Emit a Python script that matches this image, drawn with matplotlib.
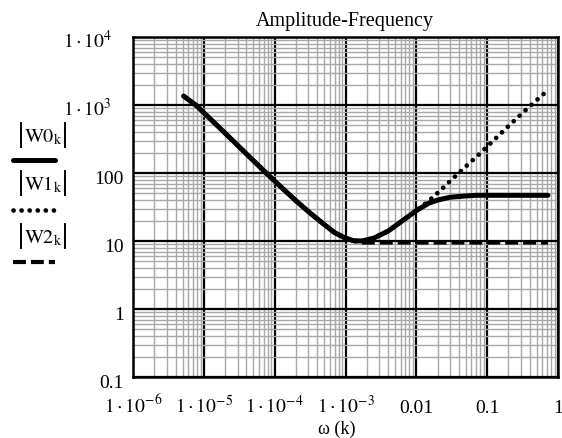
import matplotlib.pyplot as plt
from matplotlib.lines import Line2D
from matplotlib.transforms import ScaledTranslation, blended_transform_factory

plt.rcParams['font.family'] = ['Liberation Serif', 'DejaVu Serif']
plt.rcParams['mathtext.fontset'] = 'stix'

# values
omega = [5.2e-6, 7.7e-6, 1e-5, 2e-5, 5e-5, 1e-4, 2e-4, 3e-4, 5e-4, 7e-4, 1e-3, 1.3e-3,
         1.7e-3, 2.5e-3, 4e-3, 6e-3, 1e-2, 1.5e-2, 2e-2, 3e-2, 5e-2, 7e-2, 0.1, 0.2, 0.4, 0.72]
w0 = [1350, 1000, 770, 385, 152, 76, 39, 27, 17.5, 13.3, 11, 10.1,
      10, 11, 14, 19, 28, 36, 40, 44, 46, 47, 47, 47, 47, 47]
w1 = [1350, 1000, 770, 385, 152, 76, 39, 27, 17.5, 13.3, 11, 10.1,
      10, 11, 14, 19, 28, 39, 51, 76, 125, 172, 245, 490, 960, 1650]
w2 = [1350, 1000, 770, 385, 152, 76, 39, 27, 17.5, 13.3, 11, 10,
      9.5, 9.5, 9.5, 9.5, 9.5, 9.5, 9.5, 9.5, 9.5, 9.5, 9.5, 9.5, 9.5, 9.5]

x_ticks = [1e-6, 1e-5, 1e-4, 1e-3, 1e-2, 1e-1, 1]
x_labels = [r'$1\cdot10^{-6}$', r'$1\cdot10^{-5}$', r'$1\cdot10^{-4}$', r'$1\cdot10^{-3}$',
            '0.01', '0.1', '1']
y_ticks = [0.1, 1, 10, 100, 1e3, 1e4]
y_labels = ['0.1', '1', '10', '100', r'$1\cdot10^{3}$', r'$1\cdot10^{4}$']

fig = plt.figure(figsize=(5.62, 4.39), dpi=100)
ax = fig.add_axes([133 / 562, 1 - 378 / 439, 425 / 562, 340 / 439])

ax.plot(omega, w2, color='black', lw=3.0, linestyle=(0, (3.1, 1.2)), solid_capstyle='butt')
ax.plot(omega, w1, color='black', lw=3.4, linestyle=(0, (0.01, 1.7)), dash_capstyle='round')
ax.plot(omega, w0, color='black', lw=3.6, solid_capstyle='round', solid_joinstyle='round')

ax.set_xscale('log')
ax.set_yscale('log')
ax.set_xlim(1e-6, 1)
ax.set_ylim(0.1, 1e4)

ax.grid(True, which='minor', color='#a8a8a8', lw=1.0)
ax.grid(True, which='major', color='black', lw=1.6)
ax.set_axisbelow(True)
ax.tick_params(which='both', length=0, labelbottom=False, labelleft=False)
ax.set_xticks(x_ticks)
ax.set_yticks(y_ticks)
for s in ax.spines.values():
    s.set_linewidth(1.8)

# tick labels placed like Mathcad does
tx = blended_transform_factory(ax.transData, ax.transAxes)
for xv, lab in zip(x_ticks, x_labels):
    ax.text(xv, 0, lab, ha='center', va='baseline', fontsize=14,
            transform=tx + ScaledTranslation(0, -0.35, fig.dpi_scale_trans), clip_on=False)
ty = blended_transform_factory(ax.transAxes, ax.transData)
for yv, lab in zip(y_ticks, y_labels):
    dx = -0.21 if lab.startswith('$') else -0.09
    ax.text(0, yv, lab, ha='right', va='baseline', fontsize=14,
            transform=ty + ScaledTranslation(dx, -0.10, fig.dpi_scale_trans), clip_on=False)

fig.text(345 / 562, 1 - 26 / 439, 'Amplitude-Frequency', ha='center', va='baseline', fontsize=14.5)
fig.text(337 / 562, 1 - 434 / 439, 'ω (k)', ha='center', va='baseline', fontsize=13)

# legend on the left
names = [r'$\mathrm{W0}_{\mathrm{k}}$', r'$\mathrm{W1}_{\mathrm{k}}$', r'$\mathrm{W2}_{\mathrm{k}}$']
name_y = [136, 184, 237]
line_y = [161, 211, 263]
styles = [dict(linestyle='-', lw=3.6, solid_capstyle='round'),
          dict(linestyle=(0, (0.01, 1.7)), lw=3.4, dash_capstyle='round'),
          dict(linestyle=(0, (3.1, 1.2)), lw=3.0)]
for nm, ny, ly, st in zip(names, name_y, line_y, styles):
    fig.text(43 / 562, 1 - (ny + 1) / 439, nm, ha='center', va='center', fontsize=14.5)
    for bx in (21, 65):
        fig.add_artist(Line2D([bx / 562, bx / 562], [1 - (ny - 12) / 439, 1 - (ny + 12) / 439],
                              color='black', lw=1.4, transform=fig.transFigure))
    fig.add_artist(Line2D([13 / 562, 55 / 562], [1 - ly / 439, 1 - ly / 439],
                          color='black', transform=fig.transFigure, **st))

fig.savefig('out.png', dpi=100)
